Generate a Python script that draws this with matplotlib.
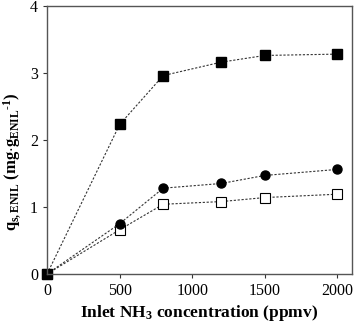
import matplotlib
matplotlib.use("Agg")
import matplotlib.pyplot as plt

x = [0, 500, 800, 1200, 1500, 2000]
filled_sq = [0, 2.23, 2.96, 3.16, 3.26, 3.28]
filled_circ = [0, 0.75, 1.28, 1.35, 1.47, 1.56]
open_sq = [0, 0.66, 1.04, 1.08, 1.14, 1.19]
xticks = [0, 500, 1000, 1500, 2000]
yticks = [0, 1, 2, 3, 4]

plt.rcParams['font.family'] = 'Liberation Serif'
plt.rcParams['mathtext.fontset'] = 'custom'
plt.rcParams['mathtext.rm'] = 'Liberation Serif:bold'
plt.rcParams['mathtext.it'] = 'Liberation Serif:bold'
plt.rcParams['mathtext.bf'] = 'Liberation Serif:bold'

fig = plt.figure(figsize=(3.54, 3.25), dpi=100)
ax = fig.add_axes([0.133, 0.157, 0.861, 0.825])

ls = dict(linestyle=(0, (2, 1.5)), linewidth=0.8, color='#333333')
ax.plot(x, open_sq, marker='s', markersize=6.5, markerfacecolor='white',
        markeredgecolor='black', markeredgewidth=0.8, clip_on=False, **ls)
ax.plot(x, filled_circ, marker='o', markersize=6.5, markerfacecolor='black',
        markeredgecolor='black', clip_on=False, **ls)
ax.plot(x, filled_sq, marker='s', markersize=6.5, markerfacecolor='black',
        markeredgecolor='black', clip_on=False, **ls)

ax.set_xlim(0, 2100)
ax.set_ylim(0, 4)
ax.set_xticks(xticks)
ax.set_yticks(yticks)
ax.tick_params(direction='out', length=3, width=0.8, labelsize=11.5, colors='#333333', labelcolor='black')
for s in ax.spines.values():
    s.set_color('#555555')
    s.set_linewidth(1.0)

ax.set_xlabel(r'Inlet NH$_\mathregular{3}$ concentration (ppmv)', fontsize=12.5, fontweight='bold', labelpad=3)
ax.set_ylabel(r'q$_\mathregular{s,ENIL}$ (mg$\cdot$g$_\mathregular{ENIL}$$^\mathregular{\text{-}1}$)', fontsize=12, fontweight='bold')
ax.yaxis.set_label_coords(-0.08, 0.42)

fig.savefig('out.png', dpi=100)
